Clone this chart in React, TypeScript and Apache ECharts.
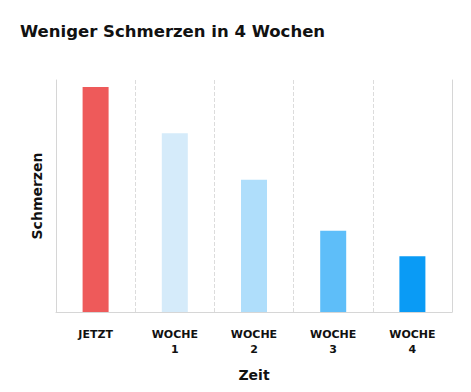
import React, { useEffect, useRef } from "react";
import * as echarts from "echarts";

const categories = ["JETZT", "WOCHE\n1", "WOCHE\n2", "WOCHE\n3", "WOCHE\n4"];
const painValues = [97, 77, 57, 35, 24];
const barColors = ["#EE5A5A", "#D5EBFA", "#AFDEFB", "#5EBEF9", "#0A9BF5"];

export default function App() {
  const ref = useRef<HTMLDivElement>(null);
  useEffect(() => {
    document.body.style.margin = "0";
    if (!ref.current) return;
    const chart = echarts.init(ref.current, null, { renderer: "svg" });
    const font = "'DejaVu Sans', Verdana, sans-serif";
    chart.setOption({
      animation: false,
      backgroundColor: "#ffffff",
      title: {
        text: "Weniger Schmerzen in 4 Wochen",
        left: 15,
        top: 18,
        textStyle: { fontFamily: font, fontWeight: "bold", fontSize: 16.5, color: "#111" },
      },
      grid: { left: 56, right: 19, top: 80, bottom: 80 },
      xAxis: {
        type: "category",
        data: categories,
        name: "Zeit",
        nameLocation: "middle",
        nameGap: 56,
        nameTextStyle: { fontFamily: font, fontWeight: "bold", fontSize: 14, color: "#111" },
        axisLine: { show: true, lineStyle: { color: "#d6d6d6", width: 1 } },
        axisTick: { show: false },
        axisLabel: {
          fontFamily: font,
          fontWeight: "bold",
          fontSize: 11,
          color: "#111",
          margin: 15,
          lineHeight: 15,
        },
        splitLine: { show: true, lineStyle: { color: "#dcdcdc", type: "dashed", width: 1 } },
      },
      yAxis: [
        {
          type: "value",
          min: 0,
          max: 100,
          name: "Schmerzen",
          nameLocation: "middle",
          nameGap: 12,
          nameRotate: 90,
          nameTextStyle: { fontFamily: font, fontWeight: "bold", fontSize: 14, color: "#111" },
          axisLine: { show: true, lineStyle: { color: "#d6d6d6", width: 1 } },
          axisTick: { show: false },
          axisLabel: { show: false },
          splitLine: { show: false },
        },
        {
          type: "value",
          min: 0,
          max: 100,
          position: "right",
          axisLine: { show: true, lineStyle: { color: "#d6d6d6", width: 1 } },
          axisTick: { show: false },
          axisLabel: { show: false },
          splitLine: { show: false },
        },
      ],
      series: [
        {
          type: "bar",
          barWidth: 26,
          data: painValues.map((v, i) => ({ value: v, itemStyle: { color: barColors[i] } })),
        },
      ],
    });
    return () => chart.dispose();
  }, []);
  return <div ref={ref} style={{ width: 471, height: 392 }} />;
}
